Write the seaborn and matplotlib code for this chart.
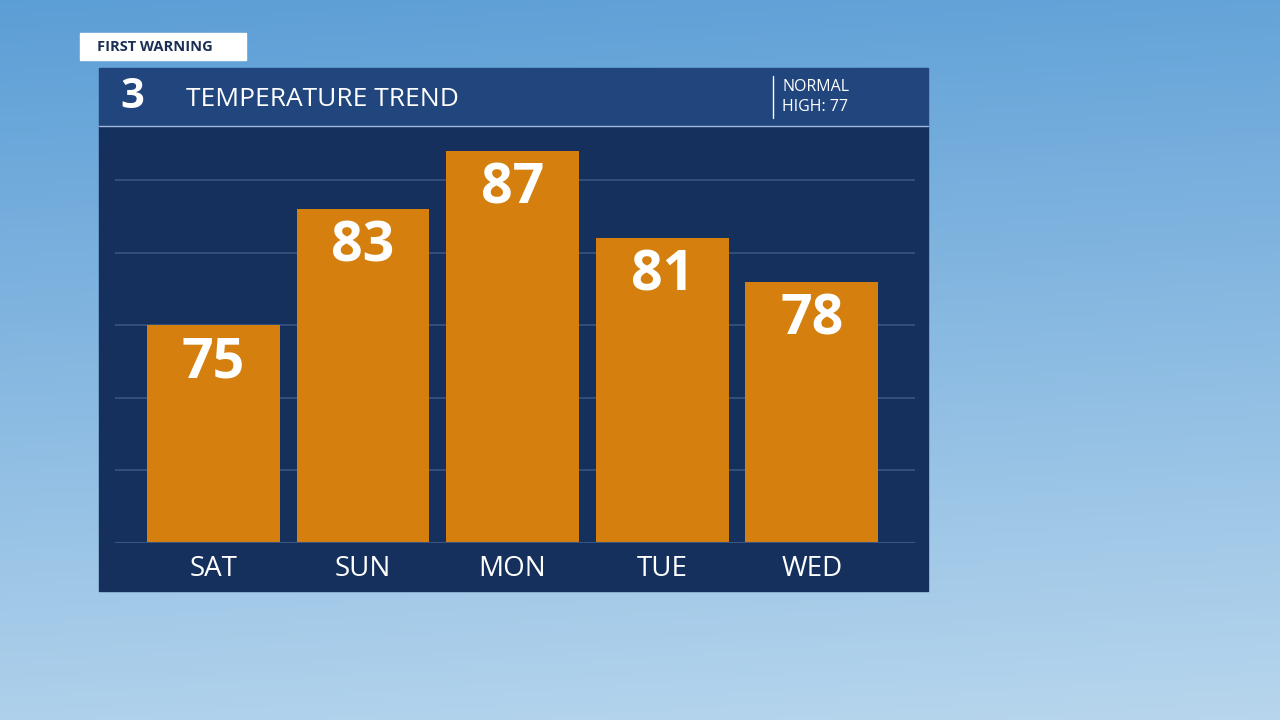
import matplotlib
matplotlib.use("Agg")
import matplotlib.pyplot as plt
import seaborn as sns
import numpy as np
import pandas as pd
from matplotlib.patches import Rectangle

days = ["SAT", "SUN", "MON", "TUE", "WED"]
highs = [75, 83, 87, 81, 78]
normal_high = 77

sns.set_theme(style="white")
plt.rcParams['font.family'] = ['Open Sans', 'DejaVu Sans']
W, H = 1280, 720
fig = plt.figure(figsize=(12.8, 7.2), dpi=100)

# sky background
bg = fig.add_axes([0, 0, 1, 1])
yy = np.linspace(0, 1, 200)[:, None]
xx = np.linspace(0, 1, 300)[None, :]
top = np.array([0.36, 0.62, 0.84]); bot = np.array([0.72, 0.84, 0.93])
t = yy * 0.9 + xx * 0.1
img = top[None, None, :] * (1 - t[..., None]) + bot[None, None, :] * t[..., None]
bg.imshow(img, extent=[0, 1, 0, 1], aspect='auto', origin='upper')
bg.set_xlim(0, 1); bg.set_ylim(0, 1); bg.axis('off')

def fx(px): return px / W
def fy(py): return 1 - py / H

# panel
bg.add_patch(Rectangle((fx(99), fy(591)), fx(928) - fx(99), fy(126) - fy(591), color='#15305C', zorder=2))
bg.add_patch(Rectangle((fx(99), fy(126)), fx(928) - fx(99), fy(68) - fy(126), color='#21457D', zorder=2))
bg.plot([fx(99), fx(928)], [fy(126), fy(126)], color='#9FB8D8', lw=1, zorder=3)
bg.add_patch(Rectangle((fx(80), fy(60)), fx(246) - fx(80), fy(33) - fy(60), color='white', zorder=3))
bg.text(fx(97), fy(47), "FIRST WARNING", color='#1B2F55', fontsize=10.5, fontweight='bold', va='center', zorder=4)
bg.text(fx(120), fy(97), "3", color='white', fontsize=30, fontweight='bold', va='center', zorder=4)
bg.text(fx(186), fy(100), "TEMPERATURE TREND", color='white', fontsize=19, va='center', zorder=4)
bg.plot([fx(773), fx(773)], [fy(76), fy(118)], color='white', lw=1, zorder=4)
bg.text(fx(782), fy(87), "NORMAL", color='white', fontsize=11.5, va='center', zorder=4)
bg.text(fx(782), fy(107), f"HIGH: {normal_high}", color='white', fontsize=11.5, va='center', zorder=4)

# chart
ax = fig.add_axes([fx(115), fy(543), fx(915) - fx(115), fy(130) - fy(543)])
ax.patch.set_alpha(0)
df = pd.DataFrame({"day": days, "high": highs})
sns.barplot(data=df, x="day", y="high", color='#D47F0E', saturation=1, width=0.887,
            linewidth=0, edgecolor='none', ax=ax, zorder=3)
ax.set_ylim(60, 60 + 413 / 14.5)
ax.set_xlim(-0.657, 4.69)
for g in [65, 70, 75, 80, 85]:
    ax.axhline(g, color='#3A5580', lw=1.2, zorder=1)
ax.axhline(60, color='#3A5580', lw=1.5, zorder=4)
for i, v in enumerate(highs):
    ax.text(i, v - 2.6, str(v), color='white', fontsize=40, fontweight='bold', ha='center', va='center', zorder=5)
ax.set_xlabel(""); ax.set_ylabel("")
ax.set_yticks([])
ax.tick_params(axis='x', colors='white', labelsize=20, length=0, pad=9)
for s in ax.spines.values():
    s.set_visible(False)

fig.savefig("out.png", dpi=100)
